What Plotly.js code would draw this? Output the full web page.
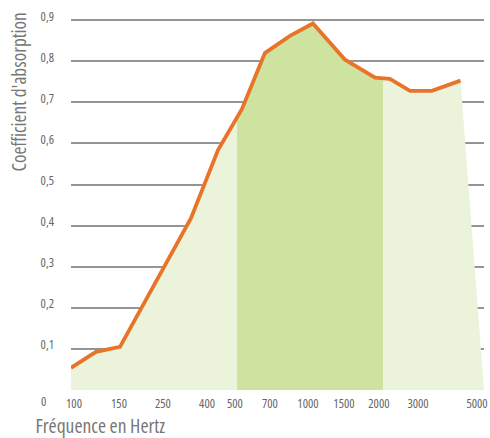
<!DOCTYPE html>
<html>
<head>
<meta charset="utf-8">
<script src="https://cdn.plot.ly/plotly-3.0.1.min.js"></script>
<style>
  html, body { margin: 0; padding: 0; background: #ffffff; }
  #chart { width: 490px; height: 438px; }
  #chart text { font-stretch: condensed; }
</style>
</head>
<body>
<div id="chart"></div>
<script>
// x unit: position along the frequency axis, in third-octave band steps (0 = 100 Hz)
const tickPos    = [0.125, 2.0, 3.83, 5.67, 6.83, 8.29, 9.875, 11.375, 12.83, 14.46, 16.92];
const tickLabels = ["100", "150", "250", "400", "500", "700", "1000", "1500", "2000", "3000", "5000"];

// absorption coefficient curve
const curveX = [0, 1.04, 2.04, 5.0, 6.125, 7.125, 8.08, 9.125, 10.08, 11.42, 12.67, 13.29, 14.125, 15.04, 16.23];
const curveY = [0.054, 0.093, 0.105, 0.418, 0.584, 0.684, 0.820, 0.862, 0.892, 0.804, 0.760, 0.757, 0.728, 0.728, 0.753];

// end of the light area (slanted edge down to the baseline)
const areaEndX = 17.21;
const areaEndY = 0;

// highlighted band 500 Hz - 2000 Hz
const bandX = [6.92, 7.125, 8.08, 9.125, 10.08, 11.42, 12.67, 13.0];
const bandY = [0.663, 0.684, 0.820, 0.862, 0.892, 0.804, 0.760, 0.758];

const yTicks = [0.1, 0.2, 0.3, 0.4, 0.5, 0.6, 0.7, 0.8, 0.9];

const FONT = "'Open Sans', sans-serif";

const traces = [
  {
    x: curveX.concat([areaEndX]),
    y: curveY.concat([areaEndY]),
    type: 'scatter', mode: 'lines',
    fill: 'tozeroy', fillcolor: '#EBF3DA',
    line: { width: 0, color: 'rgba(0,0,0,0)' },
    hoverinfo: 'skip', showlegend: false
  },
  {
    x: bandX, y: bandY,
    type: 'scatter', mode: 'lines',
    fill: 'tozeroy', fillcolor: '#CFE3A0',
    line: { width: 0, color: 'rgba(0,0,0,0)' },
    hoverinfo: 'skip', showlegend: false
  },
  {
    x: curveX, y: curveY,
    type: 'scatter', mode: 'lines',
    line: { color: '#E8742A', width: 3.8 },
    showlegend: false
  }
];

const layout = {
  width: 490, height: 438,
  margin: { l: 71, r: 6, t: 12, b: 48 },
  paper_bgcolor: '#ffffff', plot_bgcolor: 'rgba(0,0,0,0)',
  separators: ', ',
  showlegend: false,
  font: { family: FONT, color: '#666666', size: 12 },
  xaxis: {
    range: [0, areaEndX],
    tickmode: 'array', tickvals: tickPos, ticktext: tickLabels,
    showgrid: false, zeroline: false, showline: false,
    ticks: '', ticklabelstandoff: 4, ticklabeloverflow: 'allow',
    tickfont: { family: FONT, size: 12.5, color: '#666666' },
    fixedrange: true
  },
  yaxis: {
    range: [0, 0.92],
    tickmode: 'array', tickvals: yTicks, tickformat: '.1f',
    showgrid: true, gridcolor: '#959595', gridwidth: 2,
    zeroline: false, showline: false, ticks: '',
    ticklabelstandoff: 16, ticklabelshift: -4,
    tickfont: { family: FONT, size: 12.5, color: '#666666' },
    fixedrange: true
  },
  annotations: [
    {
      text: '0', xref: 'paper', yref: 'paper',
      x: (43 - 71) / 413, y: (390 - 402) / 378,
      xanchor: 'center', yanchor: 'middle', showarrow: false,
      font: { family: FONT, size: 12.5, color: '#666666' }
    },
    {
      text: 'Fréquence en Hertz', xref: 'paper', yref: 'paper',
      x: (100.5 - 71) / 413, y: (390 - 425) / 378,
      xanchor: 'center', yanchor: 'middle', showarrow: false, borderpad: 0,
      font: { family: FONT, size: 19.5, color: '#777777' }
    },
    {
      text: "Coefficient d'absorption", xref: 'paper', yref: 'paper',
      x: (17.5 - 71) / 413, y: (390 - 92) / 378,
      xanchor: 'center', yanchor: 'middle', textangle: -90, showarrow: false,
      font: { family: FONT, size: 19.3, color: '#777777' }
    }
  ]
};

Plotly.newPlot('chart', traces, layout, { displayModeBar: false, staticPlot: true });
</script>
</body>
</html>
